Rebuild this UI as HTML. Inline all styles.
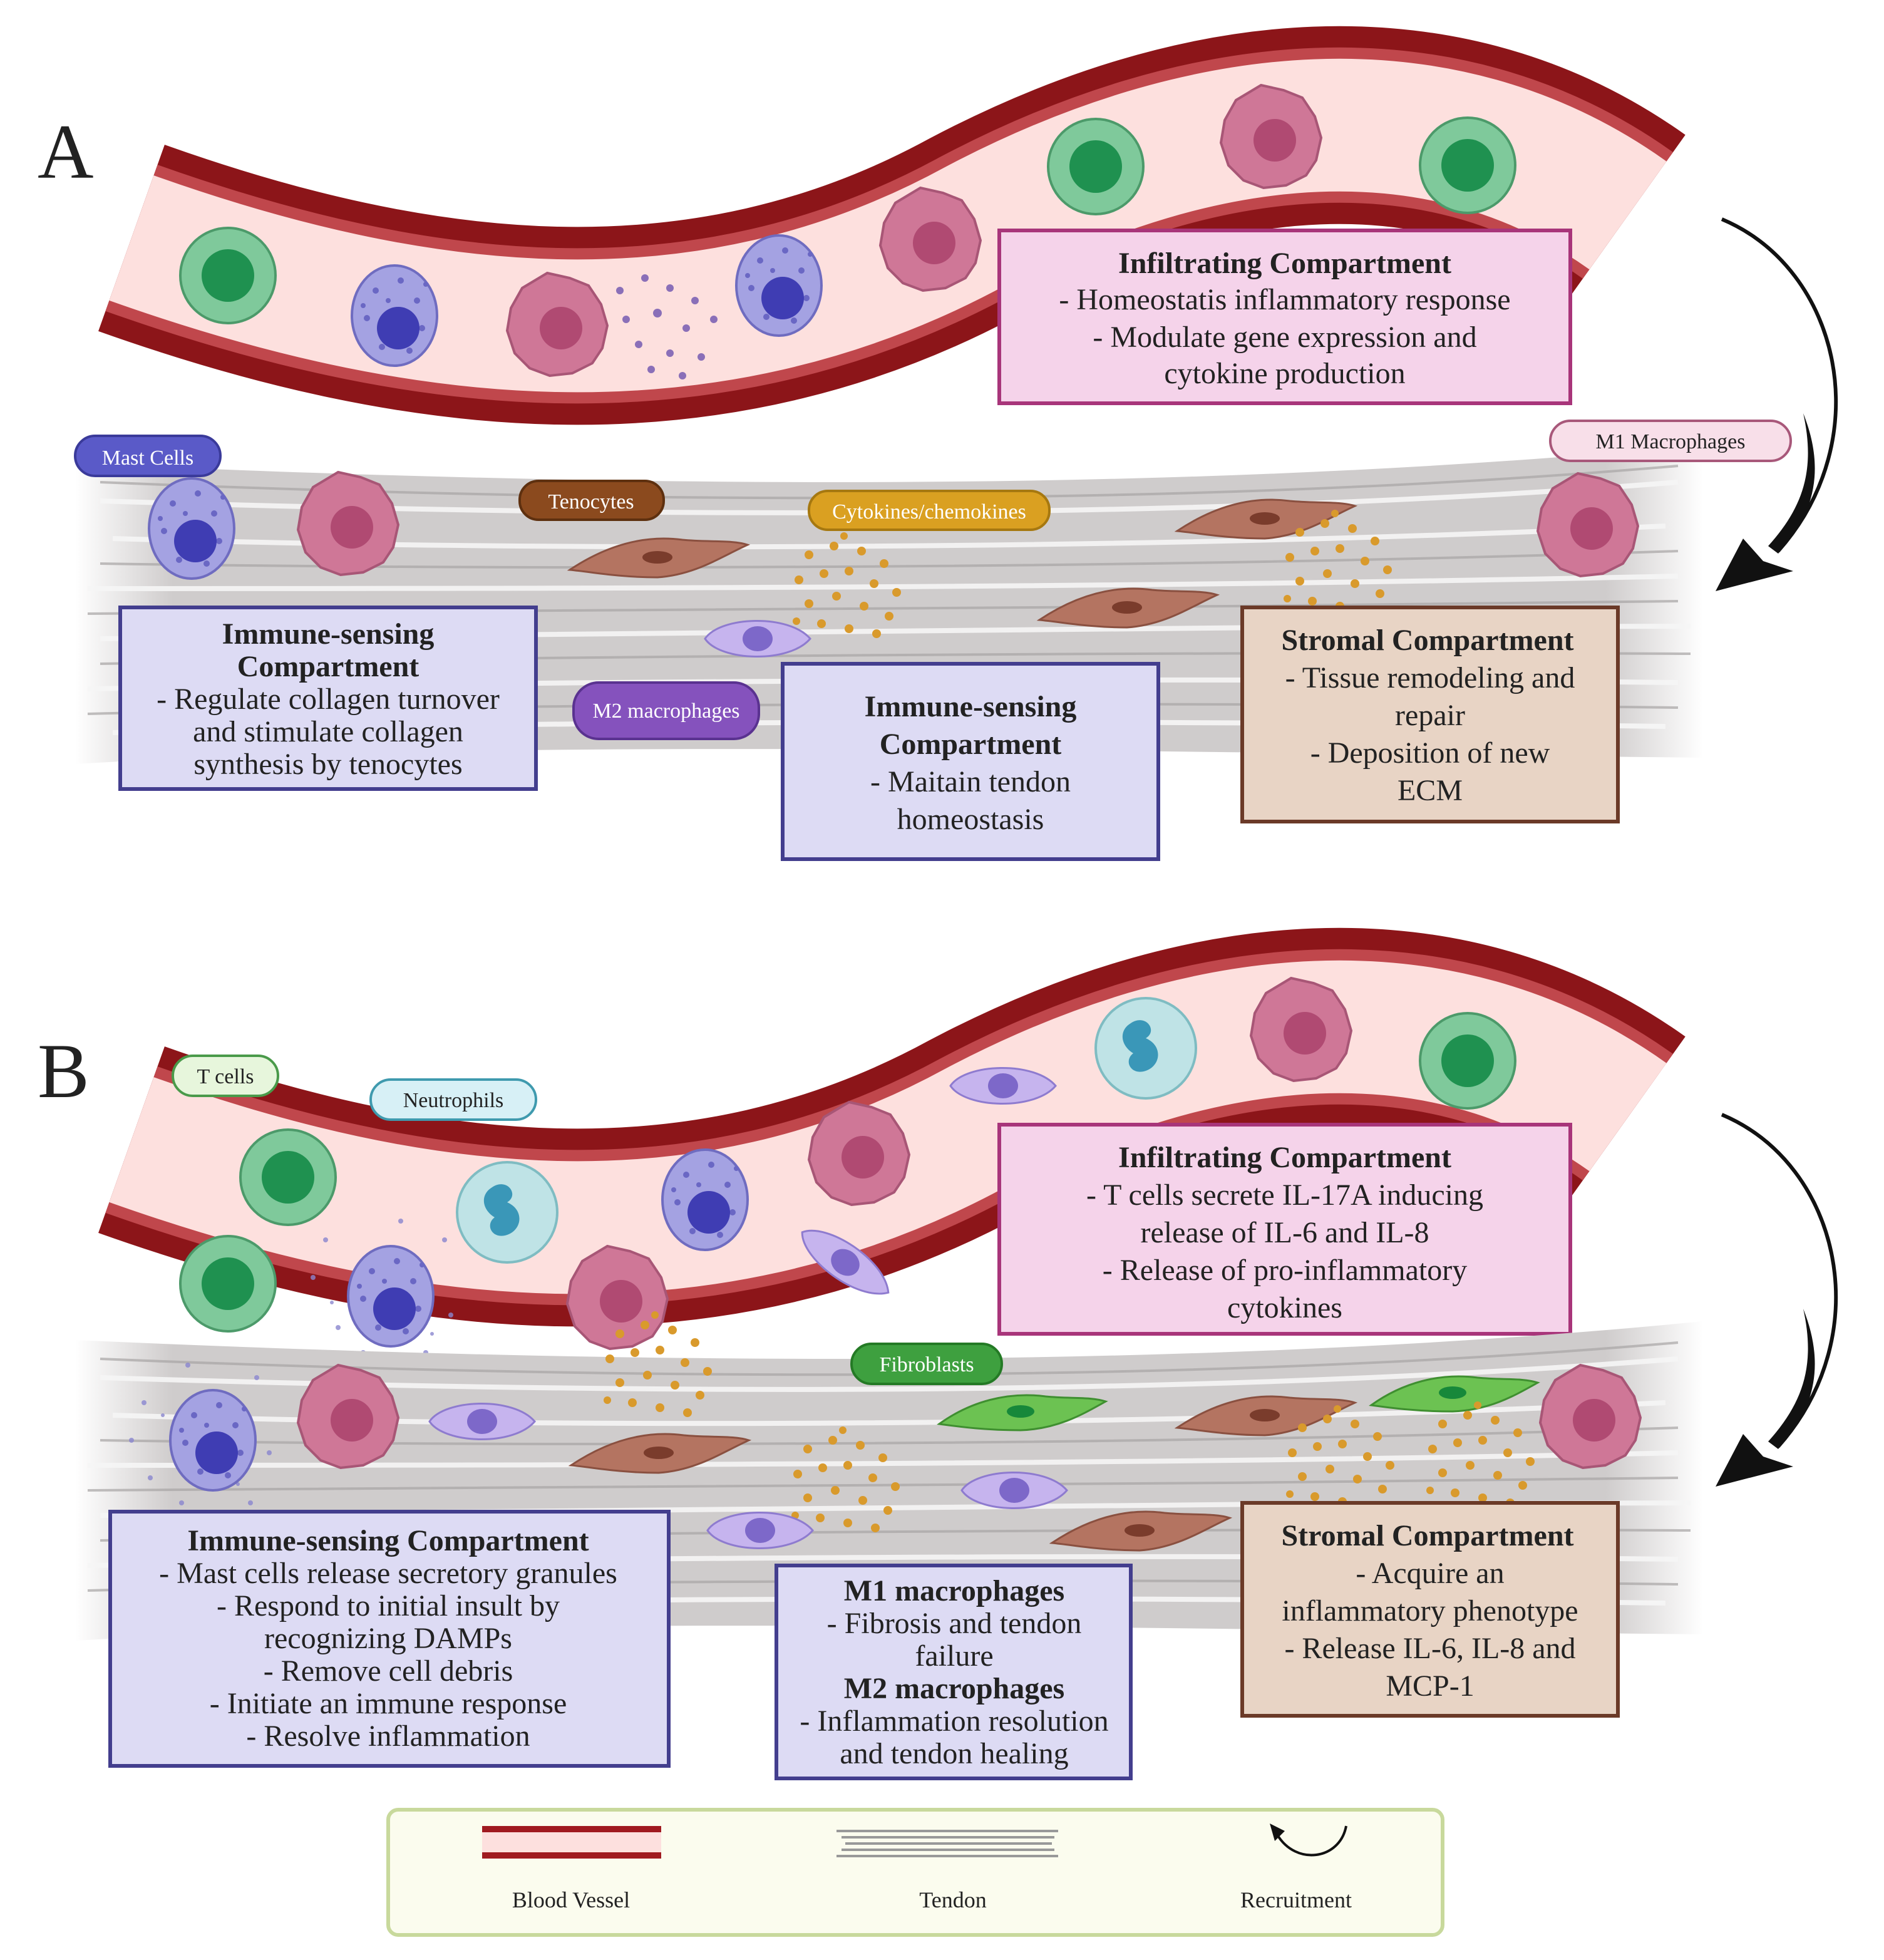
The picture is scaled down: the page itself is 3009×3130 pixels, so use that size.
<!DOCTYPE html>
<html><head><meta charset="utf-8"><style>
html,body{margin:0;padding:0;background:#fff}
svg{display:block}
text{font-family:"Liberation Serif",serif;fill:#222}
.h{font-weight:bold}
.pill{font-family:"Liberation Serif",serif;font-size:17px}
</style></head><body>
<svg width="3009" height="3130" viewBox="0 0 1504.5 1565" xmlns="http://www.w3.org/2000/svg">
<defs>
<linearGradient id="tg" x1="0" x2="1" y1="0" y2="0">
<stop offset="0" stop-color="#fff"/><stop offset="0.06" stop-color="#cfcccc"/><stop offset="0.94" stop-color="#cfcccc"/><stop offset="1" stop-color="#fff"/>
</linearGradient>
<g id="green"><circle r="38" fill="#7fc99b" stroke="#4c9a6a" stroke-width="2"/><circle r="21" fill="#1f9150"/></g>
<g id="mast"><ellipse rx="34" ry="40" fill="#a4a2e2" stroke="#6f6cc0" stroke-width="2"/>
<g fill="#6a67c4"><circle cx="-15" cy="-20" r="2.5"/><circle cx="5" cy="-28" r="2.5"/><circle cx="18" cy="-12" r="2.5"/><circle cx="-22" cy="2" r="2.5"/><circle cx="22" cy="10" r="2.5"/><circle cx="-10" cy="25" r="2.5"/><circle cx="12" cy="28" r="2.5"/><circle cx="-5" cy="-12" r="2"/><circle cx="-25" cy="-8" r="2"/><circle cx="25" cy="-25" r="2"/></g>
<circle cx="3" cy="10" r="17" fill="#3f3db3"/></g>
<g id="pink"><path d="M-8,-40 L10,-36 L25,-30 L35,-15 L40,2 L36,20 L28,32 L12,40 L-6,42 L-22,36 L-34,24 L-40,6 L-37,-12 L-28,-28 Z" fill="#cf7797" stroke="#a85676" stroke-width="2"/><circle cx="3" cy="4" r="17" fill="#b04a72"/></g>
<g id="teno"><path d="M-70,10 C-40,-10 -10,-18 20,-14 C40,-12 60,-14 72,-10 C50,0 30,14 0,16 C-30,16 -50,12 -70,10 Z" fill="#b47461" stroke="#8a5040" stroke-width="1.5"/><ellipse cx="0" cy="0" rx="12" ry="5" fill="#7a3c2c"/></g>
<g id="fib"><path d="M-65,10 C-40,-8 -10,-16 20,-12 C40,-10 55,-12 68,-8 C50,2 30,14 0,15 C-30,15 -50,12 -65,10 Z" fill="#6cc252" stroke="#3f8f30" stroke-width="1.5"/><ellipse cx="0" cy="0" rx="11" ry="5" fill="#17883a"/></g>
<g id="purp"><path d="M-42,0 C-30,-18 25,-20 42,0 C25,20 -30,18 -42,0 Z" fill="#c6b4ee" stroke="#8e7bcf" stroke-width="1.5"/><ellipse rx="12" ry="10" fill="#7d68c9"/></g>
<g id="neut"><circle r="40" fill="#bfe3e6" stroke="#7fbcc2" stroke-width="2"/><path d="M-12,-20 C0,-28 10,-14 0,-8 C14,-2 12,14 0,18 C-12,22 -18,10 -10,4 C-20,-2 -22,-14 -12,-20 Z" fill="#3a97b8"/></g>
<g id="dots" fill="#d99a2c"><circle cx="-30" cy="-25" r="3.5"/><circle cx="-10" cy="-32" r="3.5"/><circle cx="12" cy="-28" r="3.5"/><circle cx="30" cy="-18" r="3.5"/><circle cx="-38" cy="-5" r="3.5"/><circle cx="-18" cy="-10" r="3.5"/><circle cx="2" cy="-12" r="3.5"/><circle cx="22" cy="-2" r="3.5"/><circle cx="40" cy="5" r="3.5"/><circle cx="-30" cy="14" r="3.5"/><circle cx="-8" cy="8" r="3.5"/><circle cx="14" cy="16" r="3.5"/><circle cx="34" cy="24" r="3.5"/><circle cx="-20" cy="30" r="3.5"/><circle cx="2" cy="34" r="3.5"/><circle cx="24" cy="38" r="3.5"/><circle cx="-40" cy="28" r="3"/><circle cx="-2" cy="-40" r="3"/></g>
<g id="tendon">
<path d="M60,370 C400,385 900,400 1360,355 L1360,605 C900,600 400,590 60,610 Z" fill="url(#tg)"/>
<g stroke="#f6f6f6" stroke-width="4" fill="none" opacity="0.9">
<path d="M80,400 C400,410 900,420 1340,385"/><path d="M90,430 C420,440 900,440 1330,420"/><path d="M70,470 C400,470 900,470 1340,460"/><path d="M80,510 C400,505 900,500 1350,500"/><path d="M70,550 C400,545 900,540 1340,545"/><path d="M90,585 C400,575 900,575 1330,580"/>
</g>
<g stroke="#a8a5a5" stroke-width="2" fill="none" opacity="0.7">
<path d="M80,385 C400,398 900,410 1340,372"/><path d="M80,450 C400,455 900,455 1340,440"/><path d="M70,490 C400,488 900,486 1340,480"/><path d="M80,530 C400,525 900,520 1350,522"/><path d="M70,570 C400,562 900,560 1340,565"/>
</g></g>
<g id="vessel">
<path id="vc" d="M105,190 C330,270 560,300 780,180 C960,85 1150,65 1300,172" fill="none" stroke="#8c1519" stroke-width="158"/>
<path d="M105,190 C330,270 560,300 780,180 C960,85 1150,65 1300,172" fill="none" stroke="#c0474c" stroke-width="124"/>
<path d="M105,190 C330,270 560,300 780,180 C960,85 1150,65 1300,172" fill="none" stroke="#fde0de" stroke-width="106"/>
</g>
<g id="arrow">
<path d="M1375,175 C1470,215 1500,350 1420,440" fill="none" stroke="#111" stroke-width="3"/>
<path d="M1440,330 C1460,380 1445,415 1420,442 L1412,436 C1440,405 1450,375 1440,330 Z" fill="#111"/>
<path d="M1370,472 L1392,430 L1408,448 L1432,456 Z" fill="#111"/>
</g>
</defs>

<!-- PANEL A -->
<text x="30" y="142" font-size="62">A</text>
<use href="#vessel"/>
<use href="#green" x="182" y="220"/><use href="#mast" x="315" y="252"/><use href="#pink" x="445" y="258"/>
<g fill="#8a6fb8"><circle cx="495" cy="232" r="3"/><circle cx="515" cy="222" r="3"/><circle cx="535" cy="230" r="3"/><circle cx="555" cy="240" r="3"/><circle cx="500" cy="255" r="3"/><circle cx="525" cy="250" r="3.5"/><circle cx="548" cy="262" r="3"/><circle cx="570" cy="255" r="3"/><circle cx="510" cy="275" r="3"/><circle cx="535" cy="282" r="3"/><circle cx="560" cy="285" r="3"/><circle cx="520" cy="295" r="3"/><circle cx="545" cy="300" r="3"/></g>
<use href="#mast" x="622" y="228"/><use href="#pink" x="743" y="190"/><use href="#green" x="875" y="133"/><use href="#pink" x="1015" y="108"/><use href="#green" x="1172" y="132"/>

<rect x="798" y="184" width="456" height="138" fill="#f5d3ea" stroke="#a8357a" stroke-width="3"/>
<text x="1026" y="218" font-size="24" text-anchor="middle" class="h">Infiltrating Compartment</text>
<text x="1026" y="247" font-size="24" text-anchor="middle">- Homeostatis inflammatory response</text>
<text x="1026" y="277" font-size="24" text-anchor="middle">- Modulate gene expression and</text>
<text x="1026" y="306" font-size="24" text-anchor="middle">cytokine production</text>

<use href="#tendon"/>
<use href="#mast" x="153" y="422"/><use href="#pink" x="278" y="417"/><use href="#teno" x="525" y="445"/>
<use href="#dots" x="676" y="468"/><use href="#purp" x="605" y="510"/><use href="#teno" x="900" y="485"/>
<use href="#teno" x="1010" y="414"/><use href="#dots" x="1068" y="450"/><use href="#pink" x="1268" y="418"/>

<rect x="60" y="348" width="116" height="32" rx="16" fill="#5a5ac8" stroke="#3a3a9a" stroke-width="2"/>
<text x="118" y="371" class="pill" text-anchor="middle" style="fill:#fff">Mast Cells</text>
<rect x="415" y="384" width="115" height="31" rx="15" fill="#8b4a1e" stroke="#5e300f" stroke-width="2"/>
<text x="472" y="406" class="pill" text-anchor="middle" style="fill:#fff">Tenocytes</text>
<rect x="646" y="392" width="192" height="31" rx="15" fill="#daa021" stroke="#a67810" stroke-width="2"/>
<text x="742" y="414" class="pill" text-anchor="middle" style="fill:#fff">Cytokines/chemokines</text>
<rect x="1238" y="336" width="192" height="32" rx="16" fill="#f8dfe9" stroke="#a8587a" stroke-width="2"/>
<text x="1334" y="358" class="pill" text-anchor="middle">M1 Macrophages</text>
<rect x="458" y="545" width="148" height="45" rx="20" fill="#8552bd" stroke="#5a3290" stroke-width="2"/>
<text x="532" y="573" class="pill" text-anchor="middle" style="fill:#fff">M2 macrophages</text>

<rect x="96" y="485" width="332" height="145" fill="#dddbf4" stroke="#433e8e" stroke-width="3"/>
<text x="262" y="514" font-size="24" text-anchor="middle" class="h">Immune-sensing</text>
<text x="262" y="540" font-size="24" text-anchor="middle" class="h">Compartment</text>
<text x="262" y="566" font-size="24" text-anchor="middle">- Regulate collagen turnover</text>
<text x="262" y="592" font-size="24" text-anchor="middle">and stimulate collagen</text>
<text x="262" y="618" font-size="24" text-anchor="middle">synthesis by tenocytes</text>

<rect x="625" y="530" width="300" height="156" fill="#dddbf4" stroke="#433e8e" stroke-width="3"/>
<text x="775" y="572" font-size="24" text-anchor="middle" class="h">Immune-sensing</text>
<text x="775" y="602" font-size="24" text-anchor="middle" class="h">Compartment</text>
<text x="775" y="632" font-size="24" text-anchor="middle">- Maitain tendon</text>
<text x="775" y="662" font-size="24" text-anchor="middle">homeostasis</text>

<rect x="992" y="485" width="300" height="171" fill="#e8d4c5" stroke="#6b3a28" stroke-width="3"/>
<text x="1140" y="519" font-size="24" text-anchor="middle" class="h">Stromal Compartment</text>
<text x="1142" y="549" font-size="24" text-anchor="middle">- Tissue remodeling and</text>
<text x="1142" y="579" font-size="24" text-anchor="middle">repair</text>
<text x="1142" y="609" font-size="24" text-anchor="middle">- Deposition of new</text>
<text x="1142" y="639" font-size="24" text-anchor="middle">ECM</text>

<use href="#arrow"/>

<!-- PANEL B -->
<text x="30" y="876" font-size="62">B</text>
<use href="#vessel" y="720"/>
<use href="#green" x="230" y="940"/><use href="#neut" x="405" y="968"/><use href="#mast" x="563" y="958"/><use href="#pink" x="686" y="920"/>
<use href="#purp" x="801" y="867"/><use href="#neut" x="915" y="837"/><use href="#pink" x="1039" y="821"/><use href="#green" x="1172" y="847"/>
<use href="#green" x="182" y="1025"/>
<g fill="#8a86cf" opacity="0.8"><circle cx="260" cy="990" r="2"/><circle cx="250" cy="1020" r="2"/><circle cx="270" cy="1060" r="2"/><circle cx="290" cy="1080" r="2"/><circle cx="340" cy="1080" r="2"/><circle cx="360" cy="1050" r="2"/><circle cx="355" cy="990" r="2"/><circle cx="320" cy="975" r="2"/><circle cx="265" cy="1040" r="1.5"/><circle cx="345" cy="1065" r="1.5"/><circle cx="300" cy="1090" r="1.5"/></g>
<use href="#mast" x="312" y="1035"/><use href="#pink" x="493" y="1035"/>
<g transform="translate(675,1008) rotate(35)"><use href="#purp"/></g>

<rect x="798" y="898" width="456" height="167" fill="#f5d3ea" stroke="#a8357a" stroke-width="3"/>
<text x="1026" y="932" font-size="24" text-anchor="middle" class="h">Infiltrating Compartment</text>
<text x="1026" y="962" font-size="24" text-anchor="middle">- T cells secrete IL-17A inducing</text>
<text x="1026" y="992" font-size="24" text-anchor="middle">release of IL-6 and IL-8</text>
<text x="1026" y="1022" font-size="24" text-anchor="middle">-  Release of pro-inflammatory</text>
<text x="1026" y="1052" font-size="24" text-anchor="middle">cytokines</text>

<use href="#tendon" y="700"/>
<g fill="#8a86cf" opacity="0.8"><circle cx="115" cy="1120" r="2"/><circle cx="105" cy="1150" r="2"/><circle cx="120" cy="1180" r="2"/><circle cx="145" cy="1200" r="2"/><circle cx="200" cy="1200" r="2"/><circle cx="215" cy="1160" r="2"/><circle cx="205" cy="1100" r="2"/><circle cx="150" cy="1090" r="2"/><circle cx="130" cy="1130" r="1.5"/><circle cx="190" cy="1185" r="1.5"/></g>
<use href="#mast" x="170" y="1150"/><use href="#pink" x="278" y="1130"/><use href="#purp" x="385" y="1135"/>
<use href="#dots" x="525" y="1090"/><use href="#teno" x="526" y="1160"/><use href="#fib" x="815" y="1127"/>
<use href="#teno" x="1010" y="1130"/><use href="#fib" x="1160" y="1112"/><use href="#pink" x="1270" y="1130"/>
<use href="#dots" x="675" y="1182"/><use href="#purp" x="810" y="1190"/><use href="#purp" x="607" y="1222"/>
<use href="#teno" x="910" y="1222"/><use href="#dots" x="1070" y="1165"/><use href="#dots" x="1182" y="1162"/>

<rect x="138" y="843" width="84" height="32" rx="16" fill="#e7f6dc" stroke="#4a9a4a" stroke-width="2"/>
<text x="180" y="865" class="pill" text-anchor="middle">T cells</text>
<rect x="296" y="862" width="132" height="32" rx="16" fill="#d7f0f6" stroke="#3f9aae" stroke-width="2"/>
<text x="362" y="884" class="pill" text-anchor="middle">Neutrophils</text>
<rect x="680" y="1073" width="120" height="32" rx="16" fill="#3ea03f" stroke="#247a25" stroke-width="2"/>
<text x="740" y="1095" class="pill" text-anchor="middle" style="fill:#fff">Fibroblasts</text>

<rect x="88" y="1207" width="446" height="203" fill="#dddbf4" stroke="#433e8e" stroke-width="3"/>
<text x="310" y="1238" font-size="24" text-anchor="middle" class="h">Immune-sensing Compartment</text>
<text x="310" y="1264" font-size="24" text-anchor="middle">- Mast cells release secretory granules</text>
<text x="310" y="1290" font-size="24" text-anchor="middle">- Respond to initial insult by</text>
<text x="310" y="1316" font-size="24" text-anchor="middle">recognizing DAMPs</text>
<text x="310" y="1342" font-size="24" text-anchor="middle">- Remove cell debris</text>
<text x="310" y="1368" font-size="24" text-anchor="middle">- Initiate an immune response</text>
<text x="310" y="1394" font-size="24" text-anchor="middle">- Resolve inflammation</text>

<rect x="620" y="1250" width="283" height="170" fill="#dddbf4" stroke="#433e8e" stroke-width="3"/>
<text x="762" y="1278" font-size="24" text-anchor="middle" class="h">M1 macrophages</text>
<text x="762" y="1304" font-size="24" text-anchor="middle">- Fibrosis and tendon</text>
<text x="762" y="1330" font-size="24" text-anchor="middle">failure</text>
<text x="762" y="1356" font-size="24" text-anchor="middle" class="h">M2 macrophages</text>
<text x="762" y="1382" font-size="24" text-anchor="middle">- Inflammation resolution</text>
<text x="762" y="1408" font-size="24" text-anchor="middle">and tendon healing</text>

<rect x="992" y="1200" width="300" height="170" fill="#e8d4c5" stroke="#6b3a28" stroke-width="3"/>
<text x="1140" y="1234" font-size="24" text-anchor="middle" class="h">Stromal Compartment</text>
<text x="1142" y="1264" font-size="24" text-anchor="middle">- Acquire an</text>
<text x="1142" y="1294" font-size="24" text-anchor="middle">inflammatory phenotype</text>
<text x="1142" y="1324" font-size="24" text-anchor="middle">- Release IL-6, IL-8 and</text>
<text x="1142" y="1354" font-size="24" text-anchor="middle">MCP-1</text>

<use href="#arrow" y="715"/>

<!-- Legend -->
<rect x="310" y="1445" width="842" height="100" rx="8" fill="#fbfcee" stroke="#c8d99c" stroke-width="3"/>
<rect x="385" y="1458" width="143" height="26" fill="#fde0de"/>
<rect x="385" y="1458" width="143" height="5" fill="#a01a20"/>
<rect x="385" y="1479" width="143" height="5" fill="#a01a20"/>
<g stroke="#999" stroke-width="2"><line x1="668" y1="1462" x2="845" y2="1462"/><line x1="672" y1="1467" x2="842" y2="1467"/><line x1="675" y1="1472" x2="840" y2="1472"/><line x1="672" y1="1477" x2="842" y2="1477"/><line x1="668" y1="1482" x2="845" y2="1482"/></g>
<path d="M1075,1458 C1070,1485 1035,1490 1020,1465" fill="none" stroke="#111" stroke-width="2"/>
<path d="M1014,1456 L1026,1462 L1018,1470 Z" fill="#111"/>
<text x="456" y="1523" font-size="18" text-anchor="middle">Blood Vessel</text>
<text x="761" y="1523" font-size="18" text-anchor="middle">Tendon</text>
<text x="1035" y="1523" font-size="18" text-anchor="middle">Recruitment</text>
</svg>
</body></html>
